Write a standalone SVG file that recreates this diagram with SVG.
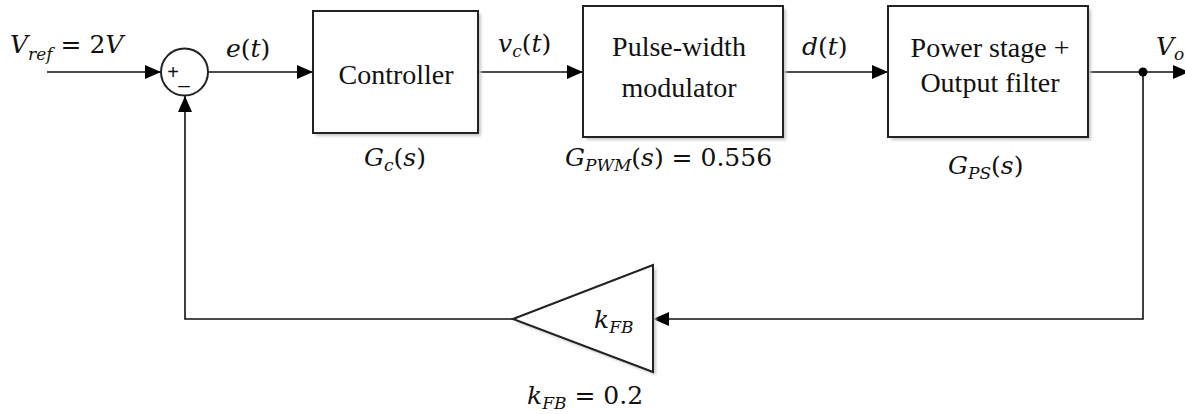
<svg xmlns="http://www.w3.org/2000/svg" width="1185" height="414" viewBox="0 0 1185 414">
<defs>
<style>
.blk{fill:#fff;stroke:#222;stroke-width:2}
.sh{fill:#c8c8c8;stroke:none;filter:url(#blur)}
.ln{fill:none;stroke:#111;stroke-width:1.6}
.txt{font-family:"Liberation Serif","Times New Roman",serif;font-size:28px;fill:#111;text-anchor:middle}
.m{font-family:"DejaVu Serif",serif;font-size:25px;fill:#111}
.i{font-style:italic}
.sub{font-size:17px;font-style:italic}
</style>
<filter id="blur" x="-10%" y="-10%" width="120%" height="120%"><feGaussianBlur stdDeviation="1.5"/></filter>
<marker id="ah" viewBox="0 0 16 14" refX="16" refY="7" markerWidth="16" markerHeight="14" markerUnits="userSpaceOnUse" orient="auto">
<path d="M0,0 L16,7 L0,14 Z" fill="#000"/>
</marker>
</defs>

<g id="connectors">
<line class="ln" x1="47" y1="72" x2="161" y2="72" marker-end="url(#ah)"/>
<line class="ln" x1="208" y1="72" x2="313" y2="72" marker-end="url(#ah)"/>
<line class="ln" x1="478" y1="72" x2="583" y2="72" marker-end="url(#ah)"/>
<line class="ln" x1="783" y1="72" x2="888" y2="72" marker-end="url(#ah)"/>
<line class="ln" x1="1088" y1="72" x2="1189" y2="72" marker-end="url(#ah)"/>
<polyline class="ln" points="1143,72 1143,319 653,319" marker-end="url(#ah)"/>
<polyline class="ln" points="513,319 185,319 185,96" marker-end="url(#ah)"/>
<circle cx="1143" cy="72" r="4.5" fill="#000"/>
</g>

<g id="vref">
<text class="m" x="10" y="53"><tspan class="i">V</tspan><tspan class="sub" dy="7">ref</tspan><tspan dy="-7"> = 2</tspan><tspan class="i">V</tspan></text>
</g>

<g id="sum">
<circle cx="184.5" cy="72" r="23.5" fill="#fff" stroke="#222" stroke-width="2"/>
<text x="173" y="79" font-family="Liberation Sans,Arial,sans-serif" font-size="20" fill="#111" text-anchor="middle">+</text>
<text x="184" y="83" font-family="Liberation Sans,Arial,sans-serif" font-size="20" fill="#111" text-anchor="middle">_</text>
</g>

<g id="label-e">
<text class="m" x="226" y="57"><tspan class="i">e</tspan>(<tspan class="i">t</tspan>)</text>
</g>

<g id="controller">
<rect class="sh" x="316" y="14" width="165" height="122"/>
<rect class="blk" x="313" y="11" width="165" height="122"/>
<text class="txt" x="396" y="84">Controller</text>
<text class="m" x="364" y="166"><tspan class="i">G</tspan><tspan class="sub" dy="5">c</tspan><tspan dy="-5">(</tspan><tspan class="i">s</tspan>)</text>
</g>

<g id="label-vc">
<text class="m" x="498" y="52"><tspan class="i">v</tspan><tspan class="sub" dy="5">c</tspan><tspan dy="-5">(</tspan><tspan class="i">t</tspan>)</text>
</g>

<g id="pwm">
<rect class="sh" x="586" y="9" width="200" height="131"/>
<rect class="blk" x="583" y="6" width="200" height="131"/>
<text class="txt" x="679" y="56">Pulse-width</text>
<text class="txt" x="679" y="97">modulator</text>
<text class="m" x="565" y="166"><tspan class="i">G</tspan><tspan class="sub" dy="5">PWM</tspan><tspan dy="-5">(</tspan><tspan class="i">s</tspan>) = 0.556</text>
</g>

<g id="label-d">
<text class="m" x="802" y="55"><tspan class="i">d</tspan>(<tspan class="i">t</tspan>)</text>
</g>

<g id="power">
<rect class="sh" x="891" y="9" width="200" height="131"/>
<rect class="blk" x="888" y="6" width="200" height="131"/>
<text class="txt" x="990" y="57">Power stage +</text>
<text class="txt" x="990" y="92">Output filter</text>
<text class="m" x="948" y="174"><tspan class="i">G</tspan><tspan class="sub" dy="5">PS</tspan><tspan dy="-5">(</tspan><tspan class="i">s</tspan>)</text>
</g>

<g id="label-vo">
<text class="m" x="1156" y="55"><tspan class="i">V</tspan><tspan class="sub" dy="5">o</tspan></text>
</g>

<g id="gain">
<polygon class="sh" points="516,322 656,268 656,375"/>
<polygon class="blk" points="513,319 653,265 653,372"/>
<text class="m" x="594" y="328"><tspan class="i">k</tspan><tspan class="sub" dy="5">FB</tspan></text>
<text class="m" x="527" y="404"><tspan class="i">k</tspan><tspan class="sub" dy="5">FB</tspan><tspan dy="-5"> = 0.2</tspan></text>
</g>
</svg>
